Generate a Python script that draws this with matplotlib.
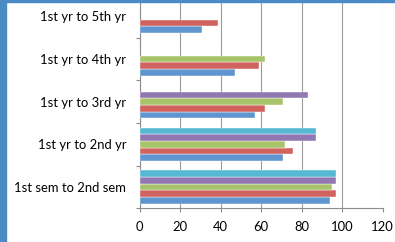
import matplotlib
matplotlib.use("Agg")
import matplotlib.pyplot as plt
from matplotlib.patches import Rectangle
import numpy as np

categories = ["1st sem to 2nd sem", "1st yr to 2nd yr", "1st yr to 3rd yr",
              "1st yr to 4th yr", "1st yr to 5th yr"]
series_a = [94, 71, 57, 47, 31]
series_b = [97, 76, 62, 59, 39]
series_c = [95, 72, 71, 62, np.nan]
series_d = [97, 87, 83, np.nan, np.nan]
series_e = [97, 87, np.nan, np.nan, np.nan]
x_ticks = [0, 20, 40, 60, 80, 100, 120]

series = [series_a, series_b, series_c, series_d, series_e]
colors = ["#5F96CF", "#D0635E", "#A8C46A", "#9278B2", "#56B8D2"]

W, H = 395, 242
fig = plt.figure(figsize=(W / 100, H / 100), dpi=100)
left, right = 139.5 / W, 382.5 / W
bottom = (H - 208.3) / H
top = (H + 5.0) / H
ax = fig.add_axes([left, bottom, right - left, top - bottom])

fam = ['Lato', 'DejaVu Sans']
fs = 9.4

y = np.arange(len(categories))
h = 0.155
for i, (vals, c) in enumerate(zip(series, colors)):
    ax.barh(y + (i - 2) * h, vals, height=h, color=c, zorder=3,
            edgecolor="white", linewidth=0.3)

ax.set_xlim(0, 120)
ax.set_ylim(-0.5, len(categories) - 0.5)
ax.set_xticks(x_ticks)
ax.set_xticklabels([str(t) for t in x_ticks], fontsize=fs, family=fam)
ax.set_yticks(y)
ax.set_yticklabels(categories, fontsize=fs, family=fam)
ax.set_yticks(np.arange(-0.5, len(categories), 1.0), minor=True)
ax.tick_params(axis='y', which='major', length=0, pad=9.5)
ax.tick_params(axis='y', which='minor', length=3, width=0.8, color='#8c8c8c', direction='out')
ax.tick_params(axis='x', length=3, width=0.8, color='#8c8c8c', direction='out', pad=6.5)

ax.grid(axis='x', color='#9a9a9a', linewidth=0.8, zorder=0)
for s in ['top', 'right']:
    ax.spines[s].set_visible(False)
for s in ['left', 'bottom']:
    ax.spines[s].set_color('#8c8c8c')
    ax.spines[s].set_linewidth(0.8)
ax.set_axisbelow(True)

# blue frame at the left and top of the crop
fig.add_artist(Rectangle((0, 0), 6 / W, 1, transform=fig.transFigure,
                         color="#4A8BC6", zorder=10))
fig.add_artist(Rectangle((0, 1 - 2 / H), 1, 2 / H, transform=fig.transFigure,
                         color="#4A8BC6", zorder=10))

fig.savefig("out.png", dpi=100)
